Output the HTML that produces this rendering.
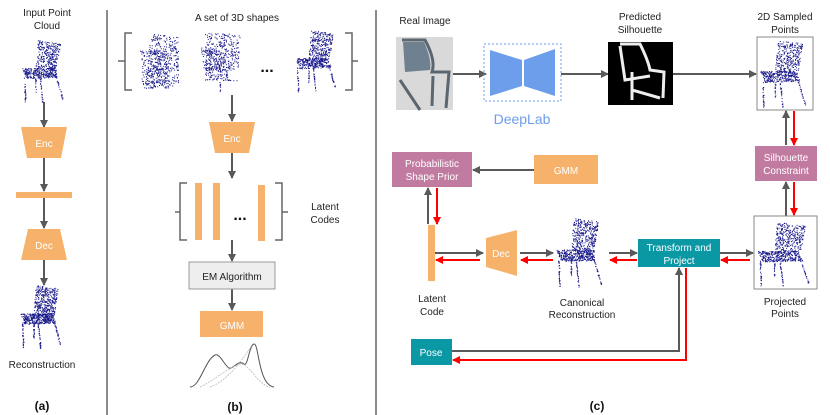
<!DOCTYPE html>
<html><head><meta charset="utf-8"><style>
html,body{margin:0;padding:0;background:#fff;}
svg{display:block;font-family:"Liberation Sans",sans-serif;}
</style></head><body>
<svg id="s" width="830" height="415" viewBox="0 0 830 415" xmlns="http://www.w3.org/2000/svg">
<defs>
<marker id="ag" markerWidth="8" markerHeight="8" refX="7" refY="4" orient="auto" markerUnits="userSpaceOnUse"><path d="M0,0 L8,4 L0,8 z" fill="#595959"/></marker>
<marker id="ar" markerWidth="8" markerHeight="8" refX="7" refY="4" orient="auto" markerUnits="userSpaceOnUse"><path d="M0,0 L8,4 L0,8 z" fill="#ff0000"/></marker>
</defs>
<line x1="107" y1="10" x2="107" y2="415" stroke="#666" stroke-width="1.5"/>
<line x1="376" y1="10" x2="376" y2="415" stroke="#666" stroke-width="1.5"/>
<g fill="#222" font-size="10" text-anchor="middle">
<text x="47" y="16">Input Point</text><text x="47" y="29">Cloud</text>
<text x="42" y="368">Reconstruction</text>
<text x="237" y="21">A set of 3D shapes</text>
<text x="325" y="210">Latent</text><text x="325" y="223">Codes</text>
<text x="425" y="24">Real Image</text>
<text x="640" y="20">Predicted</text><text x="640" y="33">Silhouette</text>
<text x="785" y="20">2D Sampled</text><text x="785" y="33">Points</text>
<text x="432" y="302">Latent</text><text x="432" y="315">Code</text>
<text x="582" y="306">Canonical</text><text x="582" y="318">Reconstruction</text>
<text x="785" y="305">Projected</text><text x="785" y="317">Points</text>
</g>
<g fill="#111" font-size="12" font-weight="bold" text-anchor="middle">
<text x="42" y="410">(a)</text><text x="235" y="411">(b)</text><text x="597" y="410">(c)</text>
</g>
<g stroke="#595959" stroke-width="2" fill="none" marker-end="url(#ag)">
<line x1="44" y1="102" x2="44" y2="127"/><line x1="44" y1="158" x2="44" y2="191"/><line x1="44" y1="198" x2="44" y2="228"/><line x1="44" y1="260" x2="44" y2="285"/>
<line x1="232" y1="95" x2="232" y2="121"/><line x1="232" y1="153" x2="232" y2="178"/><line x1="232" y1="240" x2="232" y2="261"/><line x1="232" y1="289" x2="232" y2="310"/>
<line x1="453" y1="74" x2="486" y2="74"/><line x1="561" y1="74" x2="608" y2="74"/><line x1="673" y1="74" x2="756" y2="74"/>
<line x1="786" y1="145" x2="786" y2="111"/><line x1="786" y1="216" x2="786" y2="182"/>
<line x1="534" y1="170" x2="473" y2="170"/><line x1="428" y1="224" x2="428" y2="188"/>
<line x1="435" y1="253" x2="483" y2="253"/><line x1="520" y1="253" x2="553" y2="253"/><line x1="609" y1="253" x2="637" y2="253"/><line x1="720" y1="253" x2="753" y2="253"/>
<polyline points="452,351 679,351 679,268"/>
</g>
<g stroke="#ff0000" stroke-width="2" fill="none" marker-end="url(#ar)">
<line x1="794" y1="111" x2="794" y2="145"/><line x1="794" y1="182" x2="794" y2="215"/>
<line x1="437" y1="188" x2="437" y2="224"/>
<line x1="480" y1="260" x2="436" y2="260"/><line x1="553" y1="260" x2="521" y2="260"/><line x1="637" y1="260" x2="610" y2="260"/><line x1="750" y1="260" x2="721" y2="260"/>
<polyline points="686,268 686,360 453,360"/>
</g>
<polygon points="21,127 67,127 61,158 27,158" fill="#f6b26b"/>
<text x="44" y="147" fill="#fff" font-size="10" text-anchor="middle">Enc</text>
<rect x="16" y="192" width="56" height="6" fill="#f6b26b"/>
<polygon points="28,229 60,229 67,260 21,260" fill="#f6b26b"/>
<text x="44" y="249" fill="#fff" font-size="10" text-anchor="middle">Dec</text>
<g stroke="#666" stroke-width="1.5" fill="none">
<path d="M132,33 H125 V90 H132 M125,61 H118"/><path d="M345,33 H352 V90 H345 M352,61 H358"/>
<path d="M187,183 H180 V240 H187 M180,212 H175"/><path d="M275,183 H282 V240 H275 M282,212 H288"/>
</g>
<text x="267" y="72" font-size="16" font-weight="bold" text-anchor="middle" fill="#111">...</text>
<text x="240" y="220" font-size="16" font-weight="bold" text-anchor="middle" fill="#111">...</text>
<polygon points="209,122 255,122 249,153 215,153" fill="#f6b26b"/>
<text x="232" y="142" fill="#fff" font-size="10" text-anchor="middle">Enc</text>
<rect x="195" y="183" width="7" height="57" fill="#f6b26b"/><rect x="213" y="183" width="7" height="57" fill="#f6b26b"/><rect x="258" y="185" width="7" height="56" fill="#f6b26b"/>
<rect x="189" y="262" width="86" height="27" fill="#eeeeee" stroke="#999"/>
<text x="232" y="280" font-size="10" text-anchor="middle" fill="#222">EM Algorithm</text>
<rect x="200" y="311" width="63" height="26" fill="#f6b26b"/>
<text x="232" y="329" fill="#fff" font-size="10" text-anchor="middle">GMM</text>
<path d="M190,387 C200,387 205,360 215,355 C220,353 224,365 229,368 C233,370 238,359 244,364 C248,367 249,345 254,344 C259,343 258,385 274,387" fill="none" stroke="#555" stroke-width="1"/>
<path d="M200,387 C215,380 224,370 240,364 C248,362 258,385 270,387 M210,387 C225,382 240,364 252,345" fill="none" stroke="#bbb" stroke-width="0.8" stroke-dasharray="2,1"/>
<rect x="396" y="37" width="57" height="73" fill="#d9d9d9"/>
<path d="M402,40 L425,40 Q436,60 432,72 L449,72 L446,108 M433,76 L432,106 M400,80 L420,110" stroke="#5a6670" stroke-width="3" fill="none"/>
<path d="M403,42 L424,42 Q432,60 430,70 L405,72 Z" fill="#6f8090"/>
<rect x="484" y="44" width="77" height="57" fill="none" stroke="#6d9eeb" stroke-dasharray="2,2"/>
<polygon points="490,50 522,60 522,86 490,96" fill="#6d9eeb"/><polygon points="524,60 555,49 555,96 524,86" fill="#6d9eeb"/>
<text x="522" y="124" fill="#6d9eeb" font-size="14" text-anchor="middle">DeepLab</text>
<rect x="608" y="42" width="65" height="63" fill="#000"/>
<path d="M620,44 L640,44 Q648,60 650,70 L664,72 L663,98 M632,72 L632,100 M632,90 L660,98 M620,46 L625,80 L650,76" stroke="#eee" stroke-width="3" fill="none"/>
<rect x="757" y="37" width="56" height="73" fill="#fff" stroke="#888"/>
<rect x="755" y="146" width="62" height="35" fill="#c27ba0"/>
<text x="786" y="161" fill="#fff" font-size="10" text-anchor="middle">Silhouette</text><text x="786" y="174" fill="#fff" font-size="10" text-anchor="middle">Constraint</text>
<rect x="754" y="216" width="63" height="73" fill="#fff" stroke="#888"/>
<rect x="392" y="152" width="80" height="35" fill="#c27ba0"/>
<text x="432" y="167" fill="#fff" font-size="10" text-anchor="middle">Probabilistic</text><text x="432" y="180" fill="#fff" font-size="10" text-anchor="middle">Shape Prior</text>
<rect x="534" y="155" width="64" height="29" fill="#f6b26b"/>
<text x="566" y="174" fill="#fff" font-size="10" text-anchor="middle">GMM</text>
<rect x="428" y="225" width="7" height="56" fill="#f6b26b"/>
<polygon points="486,238 517,230 517,276 486,267" fill="#f6b26b"/>
<text x="501" y="257" fill="#fff" font-size="10" text-anchor="middle">Dec</text>
<rect x="638" y="239" width="82" height="28" fill="#0b98a5"/>
<text x="679" y="251" fill="#fff" font-size="10" text-anchor="middle">Transform and</text><text x="679" y="264" fill="#fff" font-size="10" text-anchor="middle">Project</text>
<rect x="411" y="339" width="41" height="26" fill="#0b98a5"/>
<text x="431" y="356" fill="#fff" font-size="10" text-anchor="middle">Pose</text>
<g id="dots" fill="#1a1a8c"></g>
</svg>
<script>
(function(){
var g=document.getElementById('dots');var s=7;
function r(){s=(s*16807)%2147483647;return s/2147483647;}
function dot(x,y){var c=document.createElementNS('http://www.w3.org/2000/svg','rect');c.setAttribute('x',x.toFixed(1));c.setAttribute('y',y.toFixed(1));c.setAttribute('width',1);c.setAttribute('height',1);g.appendChild(c);}
function quad(p,n){for(var i=0;i<n;i++){var u=r(),v=r();var x=p[0][0]*(1-u)*(1-v)+p[1][0]*u*(1-v)+p[2][0]*u*v+p[3][0]*(1-u)*v;var y=p[0][1]*(1-u)*(1-v)+p[1][1]*u*(1-v)+p[2][1]*u*v+p[3][1]*(1-u)*v;dot(x,y);}}
function line(a,b,n){for(var i=0;i<n;i++){var t=r();dot(a[0]+(b[0]-a[0])*t+r()-.5,a[1]+(b[1]-a[1])*t+r()-.5);}}
function chair(x,y,w,h,dens){var d=dens||1;
quad([[x+w*.35,y],[x+w*.85,y+h*.05],[x+w*.75,y+h*.5],[x+w*.3,y+h*.45]],300*d);
quad([[x,y+h*.45],[x+w*.7,y+h*.45],[x+w*.8,y+h*.6],[x+w*.1,y+h*.62]],300*d);
line([x+w*.05,y+h*.6],[x+w*.07,y+h],25*d);line([x+w*.75,y+h*.58],[x+w*.9,y+h*.95],25*d);
line([x+w*.4,y+h*.62],[x+w*.45,y+h],25*d);line([x+w*.3,y+h*.6],[x+w*.3,y+h*.85],15*d);}
chair(22,40,45,62);chair(20,285,45,63,1.3);
quad([[150,33],[178,37],[178,85],[145,88]],350);quad([[140,50],[165,50],[168,88],[142,88]],250);
quad([[205,33],[240,33],[238,70],[205,72]],300);quad([[200,45],[225,50],[228,80],[205,78]],200);line([220,80],[220,92],10);line([202,79],[240,80],20);
chair(295,30,45,62);
chair(760,40,50,68);chair(556,218,50,70,1.2);chair(757,222,57,64,1.1);
})();
</script>
</body></html>
